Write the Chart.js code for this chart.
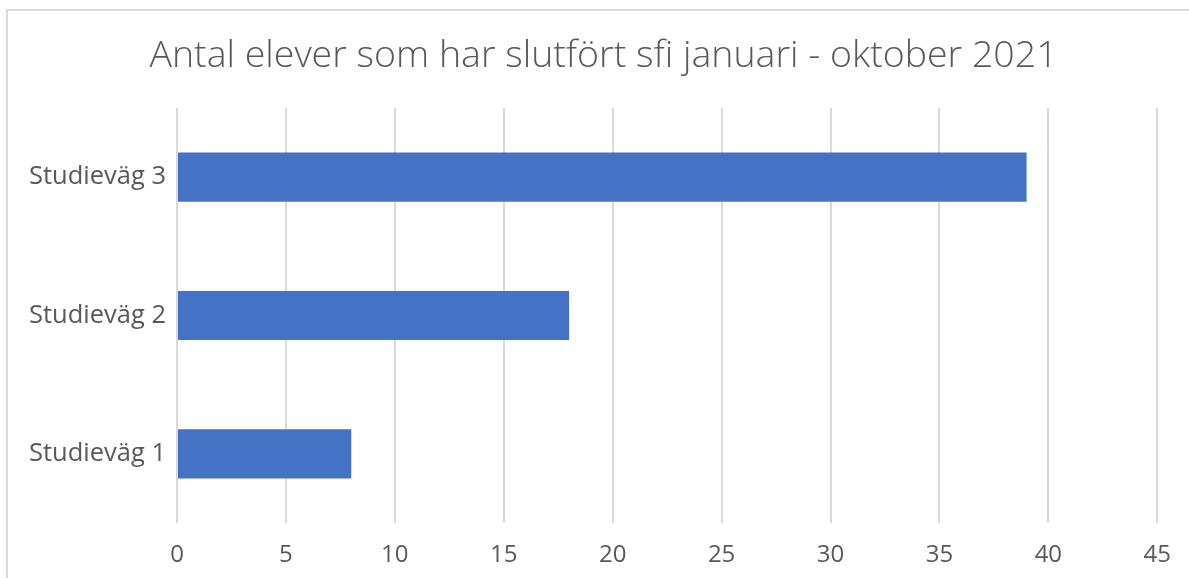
<!DOCTYPE html>
<html>
<head>
<meta charset="utf-8">
<script src="https://cdn.jsdelivr.net/npm/chart.js@4"></script>
<style>
  html, body { margin: 0; padding: 0; background: #fff; overflow: hidden; }
  #frame {
    position: absolute; left: 6px; top: 9px; width: 1300px; height: 700px;
    border-left: 2px solid #d9d9d9; border-top: 2px solid #d9d9d9;
  }
  #wrap { position: absolute; left: 0; top: 0; width: 1189px; height: 578px; }
</style>
</head>
<body>
<div id="frame"></div>
<div id="wrap"><canvas id="chart"></canvas></div>
<script>
// data (top to bottom)
const categories = ['Studieväg 3', 'Studieväg 2', 'Studieväg 1'];
const elever = [39, 18, 8];
const xMax = 45;
const xStep = 5;

const titel = 'Antal elever som har slutfört sfi januari - oktober 2021';
const textColor = '#595959';
const fontName = '"Open Sans", "Noto Sans", sans-serif';

// the original title sits a bit right of the canvas centre, so draw it by hand
const titlePlugin = {
  id: 'offsetTitle',
  afterDraw(chart) {
    const c = chart.ctx;
    c.save();
    c.font = '300 37.5px ' + fontName;
    c.fillStyle = textColor;
    c.textAlign = 'center';
    c.textBaseline = 'middle';
    c.fillText(titel, 603.5, 56);
    c.restore();
  }
};

const ctx = document.getElementById('chart');
new Chart(ctx, {
  type: 'bar',
  data: {
    labels: categories,
    datasets: [{
      data: elever,
      backgroundColor: '#4472c4',
      borderWidth: 0,
      categoryPercentage: 1,
      barPercentage: 0.355
    }]
  },
  options: {
    indexAxis: 'y',
    responsive: true,
    maintainAspectRatio: false,
    animation: false,
    layout: { padding: { left: 0, right: 31, top: 108, bottom: 0 } },
    plugins: {
      legend: { display: false },
      tooltip: { enabled: false },
      title: { display: false }
    },
    scales: {
      x: {
        min: 0,
        max: xMax,
        ticks: { stepSize: xStep, color: textColor, font: { family: fontName, size: 24 }, padding: 18 },
        grid: { color: '#d9d9d9', lineWidth: 2, drawTicks: false },
        border: { display: false },
        afterFit: (axis) => { axis.height = 55; }
      },
      y: {
        ticks: { color: textColor, font: { family: fontName, size: 25.5 }, padding: 11 },
        grid: { display: false, drawTicks: false },
        border: { display: false },
        afterFit: (axis) => { axis.width = 177; }
      }
    }
  },
  plugins: [titlePlugin]
});
</script>
</body>
</html>
